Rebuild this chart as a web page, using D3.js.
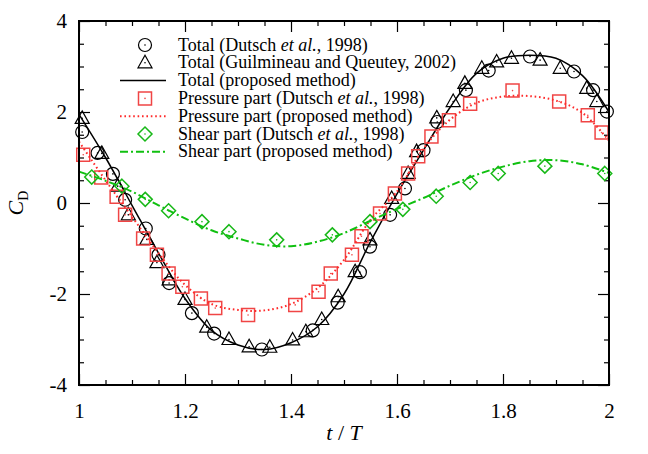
<!DOCTYPE html>
<html><head><meta charset="utf-8">
<script src="https://cdn.jsdelivr.net/npm/d3@7"></script>
<style>
body{margin:0;background:#fff;}
svg{display:block;font-family:"Liberation Serif","Times New Roman",serif;}
</style></head>
<body><svg id="c" width="648" height="454"></svg>
<script>
// ---- data ----
const tTotalDutsch = [1.006,1.035,1.064,1.087,1.126,1.150,1.170,1.213,1.255,1.345,1.441,1.488,1.530,1.549,1.587,1.615,1.650,1.676,1.730,1.773,1.851,1.934,1.970,1.996];
const cTotalDutsch = [1.56,1.10,0.64,0.07,-0.56,-1.14,-1.76,-2.42,-2.87,-3.22,-2.80,-2.19,-1.52,-0.96,-0.26,0.32,1.16,1.78,2.48,2.91,3.22,2.89,2.48,2.01];

const tTotalGuil = [1.006,1.043,1.073,1.093,1.128,1.147,1.170,1.200,1.241,1.283,1.321,1.360,1.403,1.428,1.458,1.489,1.521,1.549,1.590,1.621,1.637,1.675,1.706,1.728,1.760,1.788,1.816,1.870,1.908,1.958,1.977];
const cTotalGuil = [1.86,1.09,0.37,-0.26,-0.80,-1.31,-1.69,-2.12,-2.73,-3.00,-3.16,-3.17,-3.01,-2.83,-2.56,-2.06,-1.51,-0.81,0.10,0.65,1.13,1.87,2.23,2.63,2.96,3.10,3.18,3.14,2.96,2.52,2.23];

const tLine = [1.00,1.05,1.10,1.15,1.20,1.25,1.30,1.35,1.40,1.45,1.50,1.55,1.60,1.65,1.70,1.75,1.80,1.85,1.90,1.95,2.00];
const cTotalLine = [1.95,1.00,-0.05,-1.10,-2.10,-2.80,-3.12,-3.22,-3.07,-2.72,-2.00,-0.85,0.20,1.16,2.10,2.85,3.18,3.25,3.18,2.80,2.00];

const tPressDutsch = [1.008,1.042,1.071,1.087,1.121,1.147,1.169,1.195,1.230,1.257,1.319,1.408,1.452,1.475,1.515,1.533,1.568,1.596,1.621,1.640,1.665,1.698,1.738,1.818,1.906,1.960,1.986];
const cPressDutsch = [1.06,0.56,0.14,-0.26,-0.78,-1.14,-1.55,-1.84,-2.10,-2.31,-2.46,-2.24,-1.95,-1.55,-1.14,-0.73,-0.23,0.21,0.65,1.03,1.46,1.82,2.18,2.47,2.23,1.93,1.55];
const cPressLine = [1.35,0.50,-0.30,-1.10,-1.80,-2.22,-2.35,-2.36,-2.22,-1.87,-1.25,-0.37,0.25,1.20,1.83,2.20,2.34,2.35,2.25,1.98,1.37];

const tShearDutsch = [1.024,1.081,1.125,1.169,1.232,1.283,1.373,1.478,1.549,1.611,1.674,1.738,1.791,1.879,1.992];
const cShearDutsch = [0.57,0.37,0.08,-0.17,-0.41,-0.63,-0.81,-0.70,-0.41,-0.14,0.15,0.45,0.65,0.81,0.65];
const cShearLine = [0.69,0.49,0.25,-0.05,-0.34,-0.60,-0.78,-0.92,-0.95,-0.85,-0.66,-0.39,-0.13,0.11,0.38,0.62,0.80,0.92,0.94,0.85,0.66];

const xMajor = [1,1.2,1.4,1.6,1.8,2];
const yMajor = [-4,-2,0,2,4];
const legendLabels = [
  ["Total (Dutsch ", "et al.", ", 1998)"],
  ["Total (Guilmineau and Queutey, 2002)"],
  ["Total (proposed method)"],
  ["Pressure part (Dutsch ", "et al.", ", 1998)"],
  ["Pressure part (proposed method)"],
  ["Shear part (Dutsch ", "et al.", ", 1998)"],
  ["Shear part (proposed method)"]
];

// ---- layout ----
const L=79,R=609,T=21,B=385;
const RED="#f04545", REDL="#ff2a2a", GRN="#18b818", GRNL="#10c010";
const svg=d3.select("#c");
const x=d3.scaleLinear().domain([1,2]).range([L,R]);
const y=d3.scaleLinear().domain([-4,4]).range([B,T]);

const xMinor=d3.range(1,2.0001,0.05).map(v=>+v.toFixed(2)).filter(v=>!xMajor.some(m=>Math.abs(m-v)<1e-6));
const yMinor=d3.range(-4,4.0001,0.5).map(v=>+v.toFixed(2)).filter(v=>!yMajor.some(m=>Math.abs(m-v)<1e-6));

function styleAxis(g){g.select(".domain").remove();g.selectAll("line").attr("stroke","#000").attr("stroke-width",1.2);
  g.selectAll("text").attr("font-size",21).attr("fill","#000").attr("font-family","Liberation Serif");}
const fmt=d=>(d<0?"-":"")+Math.abs(d);
svg.append("g").attr("transform",`translate(0,${B})`).call(d3.axisBottom(x).tickValues(xMajor).tickSize(-11).tickPadding(18).tickFormat(fmt)).call(styleAxis);
svg.append("g").attr("transform",`translate(0,${B})`).call(d3.axisBottom(x).tickValues(xMinor).tickSize(-5).tickFormat("")).call(styleAxis);
svg.append("g").attr("transform",`translate(0,${T})`).call(d3.axisTop(x).tickValues(xMajor).tickSize(-11).tickFormat("")).call(styleAxis);
svg.append("g").attr("transform",`translate(0,${T})`).call(d3.axisTop(x).tickValues(xMinor).tickSize(-5).tickFormat("")).call(styleAxis);
svg.append("g").attr("transform",`translate(${L},0)`).call(d3.axisLeft(y).tickValues(yMajor).tickSize(-11).tickPadding(12).tickFormat(fmt)).call(styleAxis);
svg.append("g").attr("transform",`translate(${L},0)`).call(d3.axisLeft(y).tickValues(yMinor).tickSize(-5).tickFormat("")).call(styleAxis);
svg.append("g").attr("transform",`translate(${R},0)`).call(d3.axisRight(y).tickValues(yMajor).tickSize(-11).tickFormat("")).call(styleAxis);
svg.append("g").attr("transform",`translate(${R},0)`).call(d3.axisRight(y).tickValues(yMinor).tickSize(-5).tickFormat("")).call(styleAxis);

// axis labels
const xl=svg.append("text").attr("x",(L+R)/2).attr("y",440).attr("text-anchor","middle").attr("font-size",22);
xl.append("tspan").attr("font-style","italic").text("t");
xl.append("tspan").text(" / ");
xl.append("tspan").attr("font-style","italic").text("T");
const yl=svg.append("text").attr("transform","translate(23,203) rotate(-90)").attr("text-anchor","middle").attr("font-size",22);
yl.append("tspan").attr("font-style","italic").text("C");
yl.append("tspan").attr("font-size",14).attr("dy",5).text("D");

// ---- markers ----
const shapes={
  circle:"M6.5,0A6.5,6.5 0 1,1 -6.5,0A6.5,6.5 0 1,1 6.5,0Z",
  tri:"M0,-7.5L7,5L-7,5Z",
  square:"M-6.5,-6.5H6.5V6.5H-6.5Z",
  diamond:"M0,-7L7,0L0,7L-7,0Z"
};
function marker(g,cx,cy,shape,col,sw){
  const m=g.append("g").attr("transform",`translate(${cx},${cy})`);
  m.append("path").attr("d",shapes[shape]).attr("fill","none").attr("stroke",col).attr("stroke-width",sw);
  m.append("circle").attr("r",0.8).attr("fill",col);
}
function pts(ts,cs,shape,col,sw){
  const g=svg.append("g");
  ts.forEach((t,i)=>marker(g,x(t),y(cs[i]),shape,col,sw));
}
const line=d3.line().x(d=>x(d[0])).y(d=>y(d[1])).curve(d3.curveCatmullRom.alpha(0.5));
function curve(ts,cs,col,sw,dash){
  svg.append("path").datum(ts.map((t,i)=>[t,cs[i]])).attr("d",line).attr("fill","none")
    .attr("stroke",col).attr("stroke-width",sw).attr("stroke-dasharray",dash||null);
}

const plot=svg.append("defs").append("clipPath").attr("id","clip").append("rect").attr("x",L-8).attr("y",T).attr("width",R-L+16).attr("height",B-T);

pts(tTotalDutsch,cTotalDutsch,"circle","#000",1.2);
pts(tTotalGuil,cTotalGuil,"tri","#000",1.2);
curve(tLine,cTotalLine,"#000",1.5);
pts(tPressDutsch,cPressDutsch,"square",RED,1.5);
curve(tLine,cPressLine,REDL,2,"1.6,2.8");
pts(tShearDutsch,cShearDutsch,"diamond",GRN,1.5);
curve(tLine,cShearLine,GRNL,2,"8,3,2,3");

// frame
svg.append("rect").attr("x",L).attr("y",T).attr("width",R-L).attr("height",B-T).attr("fill","none").attr("stroke","#000").attr("stroke-width",2);

// ---- legend ----
const legY0=45, legDy=17.8, symX=145, lx0=120, lx1=166, txtX=178;
const kinds=[["m","circle","#000",1.2],["m","tri","#000",1.2],["l","#000",1.5,null],["m","square",RED,1.5],["l",REDL,2,"1.6,2.8"],["m","diamond",GRN,1.5],["l",GRNL,2,"8,3,2,3"]];
const lg=svg.append("g");
legendLabels.forEach((parts,i)=>{
  const cy=legY0+i*legDy, k=kinds[i];
  if(k[0]==="m") marker(lg,symX,cy,k[1],k[2],k[3]);
  else lg.append("line").attr("x1",lx0).attr("x2",lx1).attr("y1",cy).attr("y2",cy).attr("stroke",k[1]).attr("stroke-width",k[2]).attr("stroke-dasharray",k[3]);
  const tx=lg.append("text").attr("x",txtX).attr("y",cy+5.5).attr("font-size",18);
  parts.forEach((p,j)=>tx.append("tspan").attr("font-style",j===1?"italic":null).text(p));
});
</script></body></html>
